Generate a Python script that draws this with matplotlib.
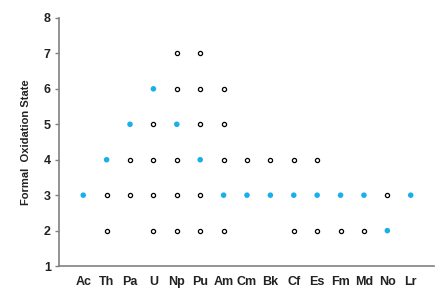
import matplotlib.pyplot as plt

plt.rcParams['font.family'] = ['Liberation Sans', 'DejaVu Sans']

elements = ['Ac', 'Th', 'Pa', 'U', 'Np', 'Pu', 'Am', 'Cm', 'Bk', 'Cf', 'Es', 'Fm', 'Md', 'No', 'Lr']
# most stable state per element (blue dots)
common_states = [3, 4, 5, 6, 5, 4, 3, 3, 3, 3, 3, 3, 3, 2, 3]
# other known states (open circles)
other_states = [
    [],
    [3, 2],
    [4, 3],
    [5, 4, 3, 2],
    [7, 6, 4, 3, 2],
    [7, 6, 5, 3, 2],
    [6, 5, 4, 2],
    [4],
    [4],
    [4, 2],
    [4, 2],
    [2],
    [2],
    [3],
    [],
]

ox, oy = [], []
for i, states in enumerate(other_states):
    for s in states:
        ox.append(i)
        oy.append(s)

fig = plt.figure(figsize=(4.48, 2.94), dpi=100)
ax = fig.add_axes([0.132, 0.095, 0.837, 0.844])

ax.scatter(ox, oy, s=9, facecolor='white', edgecolor='black', linewidth=0.9, zorder=3)
ax.scatter(range(len(elements)), common_states, s=16, color='#1aaeea', edgecolor='none', zorder=3)

ax.set_xlim(-1.03, 15.0)
ax.set_ylim(1, 8)
ax.set_xticks(range(len(elements)))
ax.set_xticklabels(elements)
ax.set_yticks(range(1, 9))

for side in ['top', 'right']:
    ax.spines[side].set_visible(False)
for side in ['left', 'bottom']:
    ax.spines[side].set_color('#808080')
    ax.spines[side].set_linewidth(1.2)

ax.tick_params(axis='x', length=0, pad=7, labelsize=9, labelcolor='#222222')
ax.tick_params(axis='y', length=3, width=1, color='#808080', pad=3, labelsize=9, labelcolor='#222222')
for lab in ax.get_xticklabels() + ax.get_yticklabels():
    lab.set_fontweight('bold')

ax.set_ylabel('Formal  Oxidation State', fontsize=8, fontweight='bold', color='#222222', labelpad=9)

fig.savefig('out.png', dpi=100)
